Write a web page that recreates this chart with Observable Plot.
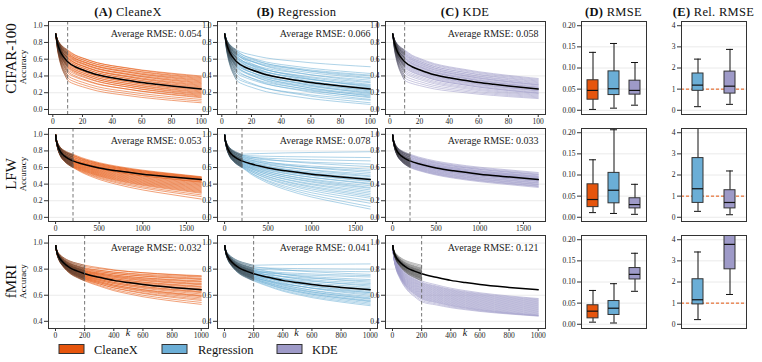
<!DOCTYPE html>
<html><head><meta charset="utf-8">
<script src="https://cdn.jsdelivr.net/npm/d3@7"></script>
<script src="https://cdn.jsdelivr.net/npm/@observablehq/plot@0.6"></script>
<style>
html,body{margin:0;padding:0;background:#fff;}
#chart{position:relative;width:762px;height:362px;overflow:hidden;background:#fff;font-family:'Liberation Serif','Times New Roman',serif;}
#chart svg text{font-family:'Liberation Serif','Times New Roman',serif;}
</style></head>
<body><div id="chart"></div>
<script>
// ---------- data ----------
const methods = ["CleaneX", "Regression", "KDE"];
const methodColors = ["#e6550d", "#6baed6", "#9e9ac8"];
const datasets = ["CIFAR-100", "LFW", "fMRI"];
const cutoffs = [10, 200, 200];

// average (true) learning curves, black
const kCIFAR = [2,3,4,5,6,8,10,15,20,30,40,50,60,70,80,90,100];
const meanCIFAR = [0.90,0.80,0.74,0.695,0.66,0.61,0.57,0.51,0.475,0.415,0.378,0.35,0.322,0.30,0.28,0.262,0.245];
const kLFW = [2,5,10,25,50,100,150,200,300,400,500,700,1000,1300,1670];
const meanLFW = [0.99,0.95,0.92,0.86,0.80,0.74,0.705,0.68,0.645,0.618,0.595,0.56,0.52,0.49,0.455];
const kFMRI = [2,5,10,25,50,100,150,200,300,400,500,600,800,1000];
const meanFMRI = [0.98,0.955,0.93,0.89,0.855,0.81,0.785,0.765,0.738,0.714,0.697,0.682,0.66,0.642];

// observed curves: accuracy at the cutoff (grey)
const grayCutCIFAR = [0.71,0.70,0.69,0.68,0.67,0.665,0.655,0.65,0.64,0.63,0.62,0.615,0.61,0.60,0.59,0.58,0.57,0.56,0.55,0.54,0.53,0.52,0.51,0.50,0.48,0.46,0.44,0.41,0.38,0.35];
const grayCutLFW = [0.76,0.75,0.745,0.74,0.73,0.725,0.72,0.71,0.705,0.70,0.695,0.69,0.685,0.68,0.675,0.67,0.665,0.66,0.655,0.65,0.645,0.64,0.635,0.63,0.625,0.62,0.615,0.61,0.605,0.60];
const grayCutFMRI = [0.83,0.82,0.81,0.805,0.80,0.795,0.79,0.787,0.784,0.78,0.777,0.774,0.77,0.767,0.764,0.76,0.757,0.754,0.75,0.747,0.744,0.74,0.737,0.734,0.73,0.727,0.724,0.72,0.715,0.71];

// predicted curves: accuracy at the largest k
const cleanexEndCIFAR = [0.39,0.40,0.37,0.38,0.34,0.36,0.35,0.31,0.33,0.32,0.28,0.30,0.29,0.26,0.27,0.24,0.25,0.22,0.23,0.20,0.21,0.18,0.19,0.16,0.17,0.14,0.15,0.12,0.10,0.08];
const regEndCIFAR = [0.51,0.38,0.43,0.33,0.41,0.27,0.37,0.40,0.24,0.30,0.35,0.22,0.32,0.28,0.19,0.29,0.25,0.16,0.26,0.21,0.23,0.14,0.20,0.18,0.12,0.17,0.15,0.08,0.11,0.06];
const kdeEndCIFAR = [0.37,0.36,0.35,0.33,0.34,0.31,0.32,0.30,0.29,0.295,0.28,0.27,0.26,0.265,0.25,0.245,0.24,0.23,0.225,0.22,0.21,0.20,0.19,0.195,0.18,0.17,0.16,0.15,0.14,0.13];
const cleanexEndLFW = [0.49,0.48,0.485,0.47,0.475,0.46,0.465,0.45,0.455,0.44,0.445,0.43,0.42,0.425,0.41,0.40,0.39,0.38,0.37,0.36,0.35,0.34,0.33,0.32,0.31,0.30,0.29,0.27,0.25,0.22];
const regEndLFW = [0.79,0.61,0.72,0.54,0.68,0.50,0.64,0.58,0.46,0.56,0.52,0.43,0.49,0.40,0.47,0.36,0.44,0.41,0.33,0.38,0.29,0.35,0.31,0.25,0.27,0.20,0.23,0.13,0.17,0.10];
const kdeEndLFW = [0.54,0.53,0.52,0.51,0.515,0.50,0.49,0.495,0.48,0.485,0.47,0.475,0.46,0.465,0.455,0.45,0.44,0.445,0.43,0.435,0.42,0.415,0.41,0.40,0.395,0.39,0.38,0.375,0.37,0.36];
const cleanexEndFMRI = [0.745,0.75,0.73,0.74,0.72,0.725,0.705,0.71,0.69,0.70,0.685,0.68,0.665,0.67,0.65,0.66,0.64,0.645,0.625,0.63,0.61,0.62,0.595,0.60,0.58,0.59,0.56,0.57,0.545,0.53];
const regEndFMRI = [0.84,0.76,0.80,0.70,0.78,0.67,0.75,0.72,0.64,0.74,0.69,0.62,0.71,0.66,0.60,0.68,0.63,0.58,0.65,0.61,0.57,0.59,0.56,0.62,0.55,0.575,0.54,0.555,0.53,0.52];
const kdeCutFMRI = [0.71,0.70,0.695,0.69,0.685,0.68,0.675,0.67,0.665,0.66,0.655,0.65,0.645,0.64,0.635,0.63,0.625,0.62,0.615,0.61,0.605,0.60,0.595,0.59,0.585,0.58,0.575,0.57,0.56,0.55];
const kdeEndFMRI = [0.575,0.57,0.565,0.56,0.555,0.55,0.545,0.54,0.535,0.53,0.525,0.52,0.515,0.51,0.505,0.50,0.495,0.49,0.485,0.48,0.475,0.47,0.465,0.46,0.455,0.45,0.447,0.444,0.442,0.44];

const avgRMSE = [["0.054","0.066","0.058"],["0.053","0.078","0.033"],["0.032","0.041","0.121"]];

// box stats: [low whisker, q1, median, q3, high whisker]
const rmseCIFAR = [[0.002,0.025,0.047,0.071,0.137],[0.005,0.036,0.051,0.092,0.158],[0.012,0.037,0.047,0.070,0.113]];
const rmseLFW = [[0.011,0.024,0.042,0.078,0.136],[0.009,0.033,0.064,0.105,0.207],[0.007,0.021,0.030,0.045,0.078]];
const rmseFMRI = [[0.005,0.014,0.031,0.045,0.080],[0.003,0.022,0.038,0.055,0.096],[0.078,0.106,0.118,0.133,0.168]];
const relCIFAR = [[0.17,0.92,1.19,1.74,2.42],[0.28,0.79,1.14,1.83,2.88]];
const relLFW = [[0.28,0.68,1.35,2.80,4.6],[0.12,0.42,0.70,1.28,2.19]];
const relFMRI = [[0.22,0.94,1.16,2.13,3.42],[1.41,2.60,3.78,4.6,5.5]];

const ticksCIFAR = [0,20,40,60,80,100];
const ticksLFW = [0,500,1000,1500];
const ticksFMRI = [0,200,400,600,800,1000];
const accTicks01 = [0,0.2,0.4,0.6,0.8,1.0];
const accTicksFMRI = [0.4,0.6,0.8,1.0];
const rmseTicks = [0,0.05,0.10,0.15,0.20];
const relTicks = [0,1,2,3,4];

// ---------- helpers ----------
const FONT = "'Liberation Serif', 'Times New Roman', serif";
const chart = document.getElementById("chart");
function place(el, left, top){ el.style.position="absolute"; el.style.left=left+"px"; el.style.top=top+"px"; chart.appendChild(el); }

function curves(k, mean, cutK, cutVals, endVals, onlyObserved){
  const iC = k.indexOf(cutK), mC = mean[iC], m0 = mean[0], mE = mean[mean.length-1];
  const out = [];
  cutVals.forEach((c, i) => {
    const dc = c - mC, de = onlyObserved ? 0 : endVals[i] - mE;
    k.forEach((kk, j) => {
      if (onlyObserved && kk > cutK) return;
      let v;
      if (kk <= cutK) v = mean[j] + dc * (m0 - mean[j]) / (m0 - mC);
      else v = mean[j] + dc + (de - dc) * (mC - mean[j]) / (mC - mE);
      out.push({id:i, k:kk, v});
    });
  });
  return out;
}

const frameX = [[48,208],[216.5,376.5],[385,545]];
const frameY = [[21,114],[127.5,220.5],[235,328]];
const boxX = [[581,646],[681,746]];

function linePanel(r, c, cfg){
  const [x0,x1] = frameX[c], [y0,y1] = frameY[r];
  const mL=30, mR=4, mT=4, mB=18;
  const p = Plot.plot({
    width: (x1-x0)+mL+mR, height: (y1-y0)+mT+mB,
    marginLeft:mL, marginRight:mR, marginTop:mT, marginBottom:mB,
    x:{domain:cfg.xDomain, axis:null}, y:{domain:cfg.yDomain, axis:null},
    style:{fontFamily:FONT, fontSize:"7.5px", color:"#222", background:"transparent", overflow:"visible"},
    marks:[
      Plot.gridY(cfg.yTicks, {stroke:"#e4e4e4", strokeOpacity:1, strokeWidth:0.8}),
      Plot.line(cfg.colored, {x:"k", y:"v", z:"id", stroke:methodColors[c], strokeWidth:0.65, strokeOpacity:0.85, curve:"monotone-x", clip:true}),
      Plot.line(cfg.gray, {x:"k", y:"v", z:"id", stroke:"#333", strokeWidth:0.65, strokeOpacity:0.55, curve:"monotone-x", clip:true}),
      Plot.line(cfg.mean, {x:"k", y:"v", stroke:"#000", strokeWidth:1.5, curve:"monotone-x", clip:true}),
      Plot.ruleX([cfg.cut], {stroke:"#666", strokeWidth:0.9, strokeDasharray:"3.5,2.5"}),
      Plot.text(["Average RMSE: " + cfg.rmse], {text:d=>d, frameAnchor:"top-right", dx:-7, dy:8, fontSize:10, fill:"#222"}),
      Plot.axisY(cfg.yTicks, {tickSize:4, tickPadding:2, tickFormat:d3.format(".1f"), stroke:"#333", fill:"#222", label:null}),
      Plot.axisX(cfg.xTicks, {tickSize:3, tickPadding:1.5, tickFormat:d=>String(d), stroke:"#333", fill:"#222", label:null}),
      Plot.frame({stroke:"#333", strokeWidth:1})
    ]
  });
  place(p, x0-mL, y0-mT);
}

function boxPanel(r, col, stats, cats, colors, cfg){
  const [x0,x1] = boxX[col], [y0,y1] = frameY[r];
  const mL=30, mR=4, mT=4, mB=6;
  const data = cats.map((m,i)=>({m, color:colors[i], low:stats[i][0], q1:stats[i][1], med:stats[i][2], q3:stats[i][3], high:stats[i][4]}));
  const marks = [Plot.gridY(cfg.yTicks, {stroke:"#e4e4e4", strokeOpacity:1, strokeWidth:0.8})];
  if (cfg.ref) marks.push(Plot.ruleY([1], {stroke:"#e6550d", strokeWidth:1, strokeDasharray:"3,2"}));
  marks.push(
    Plot.ruleX(data, {x:"m", y1:"low", y2:"high", stroke:"#111", strokeWidth:1, clip:true}),
    Plot.tickY(data, {x:"m", y:"low", stroke:"#111", strokeWidth:1, insetLeft:2, insetRight:2, clip:true}),
    Plot.tickY(data, {x:"m", y:"high", stroke:"#111", strokeWidth:1, insetLeft:2, insetRight:2, clip:true}),
    Plot.barY(data, {x:"m", y1:"q1", y2:"q3", fill:"color", stroke:"#333", strokeWidth:1, clip:true}),
    Plot.tickY(data, {x:"m", y:"med", stroke:"#111", strokeWidth:1.2, clip:true}),
    Plot.axisY(cfg.yTicks, {tickSize:4, tickPadding:2, tickFormat:cfg.fmt, stroke:"#333", fill:"#222", label:null}),
    Plot.frame({stroke:"#333", strokeWidth:1})
  );
  const p = Plot.plot({
    width:(x1-x0)+mL+mR, height:(y1-y0)+mT+mB,
    marginLeft:mL, marginRight:mR, marginTop:mT, marginBottom:mB,
    x:{domain:cats, axis:null, paddingInner:cfg.pIn, paddingOuter:cfg.pOut},
    y:{domain:cfg.yDomain, axis:null},
    color:{type:"identity"},
    style:{fontFamily:FONT, fontSize:"7.5px", color:"#222", background:"transparent", overflow:"visible"},
    marks
  });
  place(p, x0-mL, y0-mT);
}

// ---------- rows ----------
const rows = [
  {k:kCIFAR, mean:meanCIFAR, gray:grayCutCIFAR, ends:[cleanexEndCIFAR, regEndCIFAR, kdeEndCIFAR], cuts:[grayCutCIFAR, grayCutCIFAR, grayCutCIFAR],
   xDomain:[-2.9,104.9], yDomain:[-0.06,1.05], xTicks:ticksCIFAR, yTicks:accTicks01, rmse:rmseCIFAR, rel:relCIFAR},
  {k:kLFW, mean:meanLFW, gray:grayCutLFW, ends:[cleanexEndLFW, regEndLFW, kdeEndLFW], cuts:[grayCutLFW, grayCutLFW, grayCutLFW],
   xDomain:[-81,1753], yDomain:[-0.05,1.07], xTicks:ticksLFW, yTicks:accTicks01, rmse:rmseLFW, rel:relLFW},
  {k:kFMRI, mean:meanFMRI, gray:grayCutFMRI, ends:[cleanexEndFMRI, regEndFMRI, kdeEndFMRI], cuts:[grayCutFMRI, grayCutFMRI, kdeCutFMRI],
   xDomain:[-48,1050], yDomain:[0.345,1.058], xTicks:ticksFMRI, yTicks:accTicksFMRI, rmse:rmseFMRI, rel:relFMRI}
];

rows.forEach((R, r) => {
  const cut = cutoffs[r];
  const meanData = R.k.map((kk,j)=>({k:kk, v:R.mean[j]}));
  const grayData = curves(R.k, R.mean, cut, R.gray, null, true);
  for (let c=0;c<3;c++){
    linePanel(r, c, {
      xDomain:R.xDomain, yDomain:R.yDomain, xTicks:R.xTicks, yTicks:R.yTicks,
      colored: curves(R.k, R.mean, cut, R.cuts[c], R.ends[c], false),
      gray: grayData, mean: meanData, cut, rmse: avgRMSE[r][c]
    });
  }
  boxPanel(r, 0, R.rmse, methods, methodColors, {yDomain:[-0.01,0.21], yTicks:rmseTicks, fmt:d3.format(".2f"), pIn:0.49, pOut:0.245});
  boxPanel(r, 1, R.rel, methods.slice(1), methodColors.slice(1), {yDomain:[-0.2,4.2], yTicks:relTicks, fmt:d3.format("d"), pIn:0.656, pOut:0.343, ref:true});
});

// ---------- overlay texts ----------
const svg = d3.create("svg").attr("width",762).attr("height",362)
  .style("position","absolute").style("left","0px").style("top","0px").style("pointer-events","none")
  .style("font-family", FONT).attr("fill","#111");
const titles = [["(A)"," CleaneX",128],["(B)"," Regression",296.5],["(C)"," KDE",465],["(D)"," RMSE",613.5],["(E)"," Rel. RMSE",713.5]];
titles.forEach(([b,t,x])=>{
  const tx = svg.append("text").attr("x",x).attr("y",15.6).attr("text-anchor","middle").attr("font-size",12.5).attr("letter-spacing",0.3);
  tx.append("tspan").attr("font-weight","bold").text(b);
  tx.append("tspan").text(t);
});
const rowLabelY = [58.5, 174, 281.5];
const accY = [67, 174, 281.5];
datasets.forEach((d,r)=>{
  svg.append("text").attr("transform",`translate(16,${rowLabelY[r]}) rotate(-90)`).attr("text-anchor","middle").attr("font-size",15).text(d);
  svg.append("text").attr("transform",`translate(25.5,${accY[r]}) rotate(-90)`).attr("text-anchor","middle").attr("font-size",9).text("Accuracy");
});
[128,296.5,465].forEach(x=>{
  svg.append("text").attr("x",x).attr("y",335.5).attr("text-anchor","middle").attr("font-size",10).attr("font-style","italic").text("k");
});
const legendX = [[59,94],[162,198],[277,312]];
methods.forEach((m,i)=>{
  svg.append("rect").attr("x",legendX[i][0]).attr("y",344.5).attr("width",25).attr("height",9).attr("fill",methodColors[i]).attr("stroke","#333").attr("stroke-width",1);
  svg.append("text").attr("x",legendX[i][1]).attr("y",353.5).attr("font-size",12.5).text(m);
});
chart.appendChild(svg.node());
</script></body></html>
